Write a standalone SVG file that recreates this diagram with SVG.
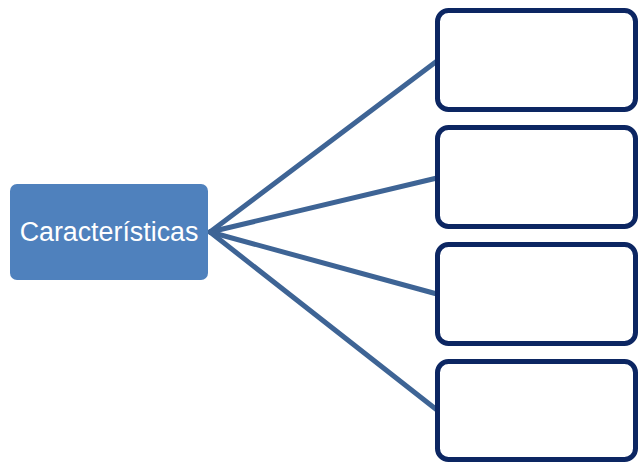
<svg xmlns="http://www.w3.org/2000/svg" width="638" height="463" viewBox="0 0 638 463">
<style>
.box{fill:#fff;stroke:#0C2662;stroke-width:5}
.conn{stroke:#3E6495;stroke-width:5;fill:none;stroke-linecap:round}
.lbl{font-family:"Liberation Sans",Arial,sans-serif;font-size:26.8px;fill:#fff}
</style>
<rect width="638" height="463" fill="#fff"/>
<g id="connectors">
<line class="conn" x1="210" y1="232" x2="437" y2="61"/>
<line class="conn" x1="210" y1="232" x2="437" y2="178"/>
<line class="conn" x1="210" y1="232" x2="437" y2="294"/>
<line class="conn" x1="210" y1="232" x2="437" y2="410"/>
</g>
<g id="main">
<rect x="10" y="184" width="198" height="96" rx="7" fill="#4F81BD"/>
<text class="lbl" x="109" y="241" text-anchor="middle">Características</text>
</g>
<g id="box1"><rect class="box" x="437.5" y="10.5" width="198" height="99" rx="11"/></g>
<g id="box2"><rect class="box" x="437.5" y="127.5" width="198" height="99" rx="11"/></g>
<g id="box3"><rect class="box" x="437.5" y="244.5" width="198" height="99" rx="11"/></g>
<g id="box4"><rect class="box" x="437.5" y="361.5" width="198" height="98" rx="11"/></g>
</svg>
